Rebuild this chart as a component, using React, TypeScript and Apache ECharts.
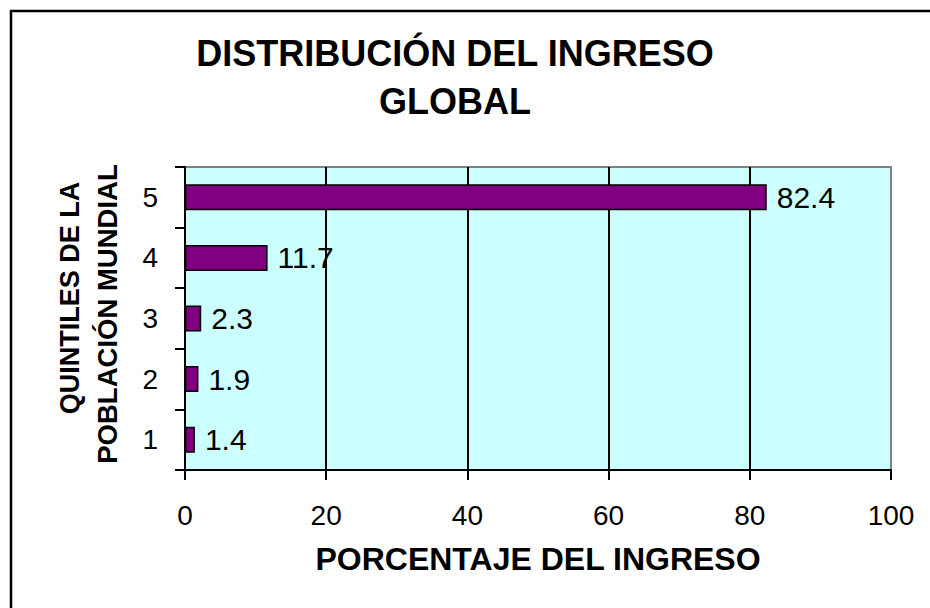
import React, { useEffect, useRef } from "react";
import * as echarts from "echarts";

const categories = ["1", "2", "3", "4", "5"];
const values = [1.4, 1.9, 2.3, 11.7, 82.4];
const titleText = "DISTRIBUCIÓN DEL INGRESO\nGLOBAL";
const xAxisName = "PORCENTAJE DEL INGRESO";
const yAxisLines = ["QUINTILES DE LA", "POBLACIÓN MUNDIAL"];

const FONT = "'Liberation Sans', Arial, sans-serif";

export default function App() {
  const ref = useRef<HTMLDivElement>(null);
  useEffect(() => {
    if (!ref.current) return;
    const chart = echarts.init(ref.current, null, { renderer: "svg" });
    chart.setOption({
      animation: false,
      backgroundColor: "#ffffff",
      textStyle: { fontFamily: FONT },
      title: {
        text: titleText,
        left: 450,
        top: 24,
        textAlign: "center",
        textStyle: { fontSize: 36, fontWeight: "bold", color: "#000", lineHeight: 48, fontFamily: FONT },
      },
      graphic: [
        {
          type: "rect",
          shape: { x: 11, y: 11, width: 1000, height: 1000 },
          style: { fill: "none", stroke: "#000", lineWidth: 2.5 },
          silent: true,
        },
        {
          type: "text",
          x: 70,
          y: 298,
          rotation: Math.PI / 2,
          style: {
            text: yAxisLines[0],
            font: `bold 27px ${FONT}`,
            fill: "#000",
            textAlign: "center",
            textVerticalAlign: "middle",
          },
        },
        {
          type: "text",
          x: 107,
          y: 314,
          rotation: Math.PI / 2,
          style: {
            text: yAxisLines[1],
            font: `bold 27.5px ${FONT}`,
            fill: "#000",
            textAlign: "center",
            textVerticalAlign: "middle",
          },
        },
      ],
      grid: {
        left: 185,
        top: 167,
        right: 39,
        bottom: 138,
        show: true,
        backgroundColor: "#CCFFFF",
        borderColor: "#808080",
        borderWidth: 2,
        containLabel: false,
      },
      xAxis: {
        type: "value",
        min: 0,
        max: 100,
        interval: 20,
        name: xAxisName,
        nameLocation: "middle",
        nameGap: 73,
        nameTextStyle: { fontSize: 32, fontWeight: "bold", color: "#000", fontFamily: FONT },
        axisLine: { show: true, lineStyle: { color: "#000", width: 2 } },
        axisTick: { show: true, length: 10, lineStyle: { color: "#000", width: 2 } },
        axisLabel: { fontSize: 28, color: "#000", margin: 31, fontFamily: FONT },
        splitLine: {
          show: true,
          lineStyle: { color: ["#000", "#000", "#000", "#000", "#000", "#808080"], width: 2 },
        },
      },
      yAxis: {
        type: "category",
        data: categories,
        axisLine: { show: true, lineStyle: { color: "#000", width: 2 } },
        axisTick: { show: true, length: 10, alignWithLabel: false, lineStyle: { color: "#000", width: 2 } },
        axisLabel: { fontSize: 28, color: "#000", margin: 27, fontFamily: FONT },
        splitLine: { show: false },
      },
      series: [
        {
          type: "bar",
          data: values,
          barWidth: 26,
          itemStyle: { color: "#800080", borderColor: "#000", borderWidth: 1.5 },
          label: {
            show: true,
            position: "right",
            distance: 10,
            fontSize: 30,
            color: "#000",
            fontFamily: FONT,
          },
        },
      ],
    });
    return () => chart.dispose();
  }, []);
  return (
    <div
      ref={ref}
      style={{ position: "fixed", left: 0, top: 0, width: 930, height: 608 }}
    />
  );
}
